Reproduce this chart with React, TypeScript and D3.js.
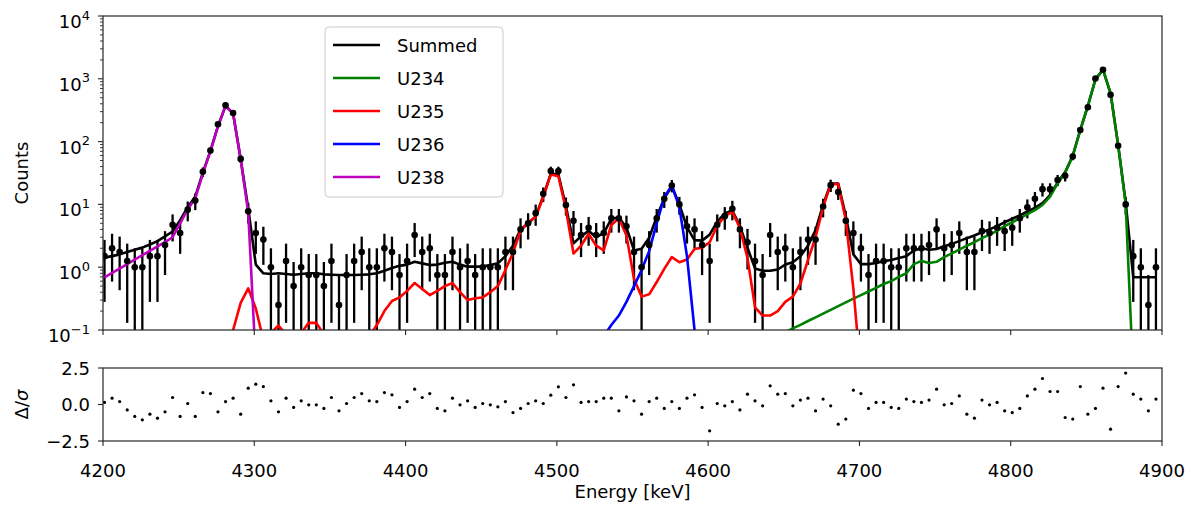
import React from 'react';
import * as d3 from 'd3';

// bin centres [keV]
const energies = [
  4201, 4206, 4211, 4216, 4221, 4226, 4231, 4236, 4241, 4246,
  4251, 4256, 4261, 4266, 4271, 4276, 4281, 4286, 4291, 4296,
  4301, 4306, 4311, 4316, 4321, 4326, 4331, 4336, 4341, 4346,
  4351, 4356, 4361, 4366, 4371, 4376, 4381, 4386, 4391, 4396,
  4401, 4406, 4411, 4416, 4421, 4426, 4431, 4436, 4441, 4446,
  4451, 4456, 4461, 4466, 4471, 4476, 4481, 4486, 4491, 4496,
  4501, 4506, 4511, 4516, 4521, 4526, 4531, 4536, 4541, 4546,
  4551, 4556, 4561, 4566, 4571, 4576, 4581, 4586, 4591, 4596,
  4601, 4606, 4611, 4616, 4621, 4626, 4631, 4636, 4641, 4646,
  4651, 4656, 4661, 4666, 4671, 4676, 4681, 4686, 4691, 4696,
  4701, 4706, 4711, 4716, 4721, 4726, 4731, 4736, 4741, 4746,
  4751, 4756, 4761, 4766, 4771, 4776, 4781, 4786, 4791, 4796,
  4801, 4806, 4811, 4816, 4821, 4826, 4831, 4836, 4841, 4846,
  4851, 4856, 4861, 4866, 4871, 4876, 4881, 4886, 4891, 4896,
];

const counts = [
  1.5, 2.0, 1.75, 1.25, 1.0, 1.0, 1.5, 1.5, 2.25, 4.75,
  3.5, 8.25, 11.5, 33, 72, 189, 380, 285, 53, 7.75,
  3.5, 2.75, 1.0, 0.25, 1.25, 0.5, 1.0, 0.75, 0.75, 0.5,
  1.25, 0.25, 0.75, 1.25, 1.75, 1.0, 1.0, 2.0, 1.75, 0.75,
  1.25, 3.25, 1.75, 2.0, 0.75, 0.75, 1.75, 1.0, 1.25, 0.75,
  1.0, 1.0, 1.0, 1.75, 1.75, 4.0, 5.0, 7.25, 14.75, 34,
  34, 9.75, 5.5, 3.25, 4.25, 3.25, 3.5, 6.0, 6.0, 4.5,
  1.75, 1.0, 2.25, 6.0, 12.25, 20, 10, 4.5, 4.0, 2.25,
  1.25, 4.75, 6.5, 8.5, 4.0, 2.5, 1.25, 0.75, 3.25, 1.75,
  2.0, 1.0, 1.75, 2.75, 2.75, 9.25, 20.25, 15.75, 5.5, 3.5,
  2.0, 0.75, 1.25, 1.25, 1.0, 1.0, 2.0, 2.0, 2.0, 2.25,
  4.0, 2.0, 2.25, 3.5, 1.75, 1.75, 3.75, 3.5, 4.25, 3.75,
  4.25, 6.0, 9.0, 12.25, 17.5, 17.5, 24.5, 28.5, 58, 153,
  352, 1010, 1390, 555, 86, 10, 1.5, 1.0, 0.25, 1.0,
];

const countErrors = [
  1.22, 1.41, 1.32, 1.12, 1.0, 1.0, 1.22, 1.22, 1.5, 2.18,
  1.87, 2.87, 3.39, 5.74, 8.49, 13.7, 19.5, 16.9, 7.28, 2.78,
  1.87, 1.66, 1.0, 0.5, 1.12, 0.71, 1.0, 0.87, 0.87, 0.71,
  1.12, 0.5, 0.87, 1.12, 1.32, 1.0, 1.0, 1.41, 1.32, 0.87,
  1.12, 1.8, 1.32, 1.41, 0.87, 0.87, 1.32, 1.0, 1.12, 0.87,
  1.0, 1.0, 1.0, 1.32, 1.32, 2.0, 2.24, 2.69, 3.84, 5.83,
  5.83, 3.12, 2.35, 1.8, 2.06, 1.8, 1.87, 2.45, 2.45, 2.12,
  1.32, 1.0, 1.5, 2.45, 3.5, 4.47, 3.16, 2.12, 2.0, 1.5,
  1.12, 2.18, 2.55, 2.92, 2.0, 1.58, 1.12, 0.87, 1.8, 1.32,
  1.41, 1.0, 1.32, 1.66, 1.66, 3.04, 4.5, 3.97, 2.35, 1.87,
  1.41, 0.87, 1.12, 1.12, 1.0, 1.0, 1.41, 1.41, 1.41, 1.5,
  2.0, 1.41, 1.5, 1.87, 1.32, 1.32, 1.94, 1.87, 2.06, 1.94,
  2.06, 2.45, 3.0, 3.5, 4.18, 4.18, 4.95, 5.34, 7.62, 12.4,
  18.8, 31.8, 37.3, 23.6, 9.27, 3.16, 1.22, 1.0, 0.5, 1.0,
];

const residuals = [
  0.14, 0.43, 0.2, -0.37, -0.82, -1.05, -0.66, -0.94, -0.5, 0.48,
  -0.82, 0.07, -0.82, 0.82, 0.75, -0.5, 0.2, 0.43, -0.66, 1.12,
  1.39, 1.23, 0.25, -0.5, 0.43, -0.2, 0.25, -0.02, -0.02, -0.27,
  0.48, -0.43, 0.07, 0.48, 0.75, 0.25, 0.2, 0.82, 0.66, -0.2,
  0.2, 1.05, 0.48, 0.75, -0.27, -0.43, 0.43, -0.02, 0.25, -0.2,
  0.07, -0.02, -0.16, 0.2, -0.55, -0.27, 0.07, 0.25, 0.07, 0.64,
  1.21, 0.48, 1.35, 0.14, 0.2, 0.2, 0.43, 0.43, -0.43, 0.52,
  0.25, -0.66, 0.2, 0.43, -0.27, 0.2, -0.27, 0.43, 0.66, -0.2,
  -1.8, 0.07, -0.09, 0.2, -0.37, 0.71, 0.25, -0.09, 1.28, 0.71,
  0.75, -0.09, 0.3, 0.43, -0.43, 0.37, -0.09, -1.35, -1.0, 0.98,
  0.75, -0.27, 0.14, 0.14, -0.2, -0.27, 0.37, 0.2, 0.14, 0.3,
  1.05, -0.02, 0.07, 0.59, -0.66, -0.94, 0.3, -0.02, 0.14, -0.43,
  -0.55, -0.27, 0.59, 1.05, 1.78, 0.89, 0.89, -0.89, -1.0, 1.23,
  -0.66, -0.27, 1.12, -1.69, 1.23, 2.15, 0.71, 0.37, -0.43, 0.37,
];

const summed = [
  1.42, 1.5, 1.6, 1.75, 1.9, 2.05, 2.3, 2.6, 3.1, 3.7,
  5.6, 9.0, 13.3, 32, 71, 176, 371, 281, 53, 8.6,
  1.1, 0.8, 0.78, 0.8, 0.78, 0.76, 0.78, 0.8, 0.8, 0.77,
  0.76, 0.75, 0.75, 0.75, 0.76, 0.77, 0.8, 0.88, 0.97, 1.05,
  1.1, 1.22, 1.15, 1.08, 1.1, 1.18, 1.22, 1.1, 1.02, 1.02,
  1.03, 1.08, 1.15, 1.5, 2.2, 4.0, 4.9, 6.5, 13.5, 31,
  30, 9.3, 2.4, 3.1, 3.8, 3.0, 3.5, 5.9, 6.2, 4.3,
  1.85, 1.97, 2.95, 6.3, 12.5, 19.5, 10, 4.3, 2.7, 2.65,
  3.3, 5.3, 7.2, 8.0, 4.5, 2.05, 0.95, 0.88, 0.88, 0.92,
  1.1, 1.2, 1.5, 2.2, 3.9, 9.8, 21.5, 21.5, 6.5, 1.6,
  1.12, 1.12, 1.17, 1.24, 1.3, 1.4, 1.5, 1.85, 2.0, 1.9,
  1.95, 2.15, 2.35, 2.6, 2.9, 3.2, 3.6, 4.0, 4.5, 5.2,
  5.9, 6.7, 7.7, 8.8, 10.5, 14, 22.3, 32.7, 59.7, 154,
  370, 978, 1401, 588, 88.7, 10.8, 0.69, 0.69, 0.69, 0.69,
];

const u234 = [
  null, null, null, null, null, null, null, null, null, null,
  null, null, null, null, null, null, null, null, null, null,
  null, null, null, null, null, null, null, null, null, null,
  null, null, null, null, null, null, null, null, null, null,
  null, null, null, null, null, null, null, null, null, null,
  null, null, null, null, null, null, null, null, null, null,
  null, null, null, null, null, null, null, null, null, null,
  null, null, null, null, null, null, null, null, null, null,
  null, null, null, null, null, null, null, null, null, null,
  0.092, 0.106, 0.121, 0.139, 0.159, 0.182, 0.209, 0.24, 0.275, 0.315,
  0.36, 0.41, 0.47, 0.54, 0.6, 0.7, 0.8, 1.12, 1.26, 1.17,
  1.22, 1.45, 1.66, 1.9, 2.2, 2.5, 2.9, 3.3, 3.8, 4.5,
  5.2, 6.0, 7.0, 8.1, 9.8, 13.3, 21.6, 32, 59, 153,
  369, 977, 1400, 587, 88, 10.1, 0.018, null, null, null,
];

const u235 = [
  null, null, null, null, null, null, null, null, null, null,
  null, null, null, null, null, null, 0.03, 0.1, 0.27, 0.46,
  0.22, 0.07, 0.09, 0.118, 0.085, 0.06, 0.09, 0.13, 0.13, 0.085,
  0.06, 0.05, 0.05, 0.05, 0.05, 0.08, 0.12, 0.2, 0.29, 0.33,
  0.42, 0.56, 0.45, 0.36, 0.42, 0.5, 0.56, 0.4, 0.3, 0.32,
  0.33, 0.4, 0.5, 0.9, 1.7, 3.8, 5.2, 6.3, 13, 30,
  28, 8.3, 1.65, 2.2, 3.4, 2.2, 1.85, 4.7, 6.0, 3.2,
  0.65, 0.34, 0.37, 0.58, 0.94, 1.45, 1.2, 1.33, 1.95, 2.05,
  2.5, 4.6, 6.5, 7.6, 4.2, 1.4, 0.23, 0.17, 0.17, 0.2,
  0.28, 0.34, 0.55, 1.3, 3.0, 9.0, 21, 21, 5.6, 0.45,
  0.02, null, null, null, null, null, null, null, null, null,
  null, null, null, null, null, null, null, null, null, null,
  null, null, null, null, null, null, null, null, null, null,
  null, null, null, null, null, null, null, null, null, null,
];

const u236 = [
  null, null, null, null, null, null, null, null, null, null,
  null, null, null, null, null, null, null, null, null, null,
  null, null, null, null, null, null, null, null, null, null,
  null, null, null, null, null, null, null, null, null, null,
  null, null, null, null, null, null, null, null, null, null,
  null, null, null, null, null, null, null, null, null, null,
  null, null, null, null, null, 0.05, 0.08, 0.12, 0.17, 0.28,
  0.5, 0.9, 1.8, 5.0, 13, 20, 9, 1.5, 0.1, 0.004,
  null, null, null, null, null, null, null, null, null, null,
  null, null, null, null, null, null, null, null, null, null,
  null, null, null, null, null, null, null, null, null, null,
  null, null, null, null, null, null, null, null, null, null,
  null, null, null, null, null, null, null, null, null, null,
  null, null, null, null, null, null, null, null, null, null,
];

const u238 = [
  0.69, 0.81, 0.95, 1.12, 1.32, 1.55, 1.82, 2.14, 2.5, 3.0,
  5.0, 8.3, 12.5, 31, 70, 175, 370, 280, 52, 7.5,
  0.03, null, null, null, null, null, null, null, null, null,
  null, null, null, null, null, null, null, null, null, null,
  null, null, null, null, null, null, null, null, null, null,
  null, null, null, null, null, null, null, null, null, null,
  null, null, null, null, null, null, null, null, null, null,
  null, null, null, null, null, null, null, null, null, null,
  null, null, null, null, null, null, null, null, null, null,
  null, null, null, null, null, null, null, null, null, null,
  null, null, null, null, null, null, null, null, null, null,
  null, null, null, null, null, null, null, null, null, null,
  null, null, null, null, null, null, null, null, null, null,
  null, null, null, null, null, null, null, null, null, null,
];

const xTicks = [4200, 4300, 4400, 4500, 4600, 4700, 4800, 4900];
const yExponents = [-1, 0, 1, 2, 3, 4];
const residualTicks = [-2.5, 0, 2.5];

const series = [
  { label: 'Summed', color: '#000000', values: summed },
  { label: 'U234', color: '#008000', values: u234 },
  { label: 'U235', color: '#ff0000', values: u235 },
  { label: 'U236', color: '#0000ff', values: u236 },
  { label: 'U238', color: '#bf00bf', values: u238 },
];

const font = 'DejaVu Sans, sans-serif';
const axisColor = '#262626';

export default function App() {
  const W = 1201;
  const H = 505;
  const left = 103;
  const right = 1162;
  const top1 = 16;
  const bottom1 = 330;
  const top2 = 368;
  const bottom2 = 441;

  const x = d3.scaleLinear().domain([4200, 4900]).range([left, right]);
  const y = d3.scaleLog().domain([0.1, 1e4]).range([bottom1, top1]);
  const yr = d3.scaleLinear().domain([-2.5, 2.5]).range([bottom2, top2]);

  const linePath = (vals: (number | null)[]) =>
    d3
      .line<number | null>()
      .defined((v) => v != null)
      .x((_, i) => x(energies[i]))
      .y((v) => y(v as number))(vals) || '';

  const minorTicks: number[] = [];
  for (let e = -1; e < 4; e++) {
    for (let m = 2; m <= 9; m++) minorTicks.push(m * Math.pow(10, e));
  }

  return (
    <div style={{ position: 'absolute', left: 0, top: 0 }}>
      <svg width={W} height={H} style={{ display: 'block', background: '#fff' }} fontFamily={font}>
        <defs>
          <clipPath id="clipTop">
            <rect x={left} y={top1} width={right - left} height={bottom1 - top1} />
          </clipPath>
          <clipPath id="clipBot">
            <rect x={left} y={top2} width={right - left} height={bottom2 - top2} />
          </clipPath>
        </defs>

        {/* top panel: data error bars */}
        <g clipPath="url(#clipTop)">
          {counts.map((c, i) => (
            <line
              key={'e' + i}
              x1={x(energies[i])}
              x2={x(energies[i])}
              y1={y(Math.max(c - countErrors[i], 1e-3))}
              y2={y(c + countErrors[i])}
              stroke="#000"
              strokeWidth={2.3}
            />
          ))}
          {series.map((s) => (
            <path key={s.label} d={linePath(s.values)} fill="none" stroke={s.color} strokeWidth={2.6} strokeLinejoin="round" />
          ))}
          {counts.map((c, i) => (
            <circle key={'p' + i} cx={x(energies[i])} cy={y(c)} r={3.3} fill="#000" />
          ))}
        </g>

        {/* top panel frame & ticks */}
        <rect x={left} y={top1} width={right - left} height={bottom1 - top1} fill="none" stroke={axisColor} strokeWidth={1.2} />
        {xTicks.map((t) => (
          <line key={'xt1' + t} x1={x(t)} x2={x(t)} y1={bottom1} y2={bottom1 + 5} stroke={axisColor} strokeWidth={1.1} />
        ))}
        {minorTicks.map((t) => (
          <line key={'ym' + t} x1={left - 3} x2={left} y1={y(t)} y2={y(t)} stroke={axisColor} strokeWidth={0.9} />
        ))}
        {yExponents.map((e) => {
          const ty = y(Math.pow(10, e));
          return (
            <g key={'ye' + e}>
              <line x1={left - 5} x2={left} y1={ty} y2={ty} stroke={axisColor} strokeWidth={1.1} />
              <text x={90} y={ty + 12} fontSize={18} textAnchor="end" fill="#000">
                10
                <tspan dy={-8.5} fontSize={13}>
                  {e < 0 ? '\u2212' + -e : String(e)}
                </tspan>
              </text>
            </g>
          );
        })}
        <text transform={`translate(28,${(top1 + bottom1) / 2}) rotate(-90)`} fontSize={18} textAnchor="middle" fill="#000">
          Counts
        </text>

        {/* legend */}
        <rect x={325} y={27} width={178} height={170} rx={4} fill="#fff" fillOpacity={0.8} stroke="#cccccc" strokeWidth={1} />
        {series.map((s, i) => (
          <g key={'lg' + s.label}>
            <line x1={333} x2={380} y1={45 + i * 33} y2={45 + i * 33} stroke={s.color} strokeWidth={2.6} />
            <text x={397} y={45 + i * 33 + 6.5} fontSize={18} fill="#000">
              {s.label}
            </text>
          </g>
        ))}

        {/* residual panel */}
        <g clipPath="url(#clipBot)">
          {residuals.map((r, i) => (
            <circle key={'r' + i} cx={x(energies[i])} cy={yr(r)} r={1.6} fill="#000" />
          ))}
        </g>
        <rect x={left} y={top2} width={right - left} height={bottom2 - top2} fill="none" stroke={axisColor} strokeWidth={1.2} />
        {xTicks.map((t) => (
          <g key={'xt2' + t}>
            <line x1={x(t)} x2={x(t)} y1={bottom2} y2={bottom2 + 5} stroke={axisColor} strokeWidth={1.1} />
            <text x={x(t)} y={477} fontSize={18} textAnchor="middle" fill="#000">
              {t}
            </text>
          </g>
        ))}
        {residualTicks.map((t) => (
          <g key={'rt' + t}>
            <line x1={left - 5} x2={left} y1={yr(t)} y2={yr(t)} stroke={axisColor} strokeWidth={1.1} />
            <text x={90} y={yr(t) + 6.5} fontSize={18} textAnchor="end" fill="#000">
              {(t < 0 ? '\u2212' : '') + Math.abs(t).toFixed(1)}
            </text>
          </g>
        ))}
        <text transform={`translate(28,${(top2 + bottom2) / 2}) rotate(-90)`} fontSize={18} textAnchor="middle" fill="#000">
          Δ/<tspan fontStyle="italic">σ</tspan>
        </text>
        <text x={(left + right) / 2} y={498} fontSize={18} textAnchor="middle" fill="#000">
          Energy [keV]
        </text>
      </svg>
    </div>
  );
}
